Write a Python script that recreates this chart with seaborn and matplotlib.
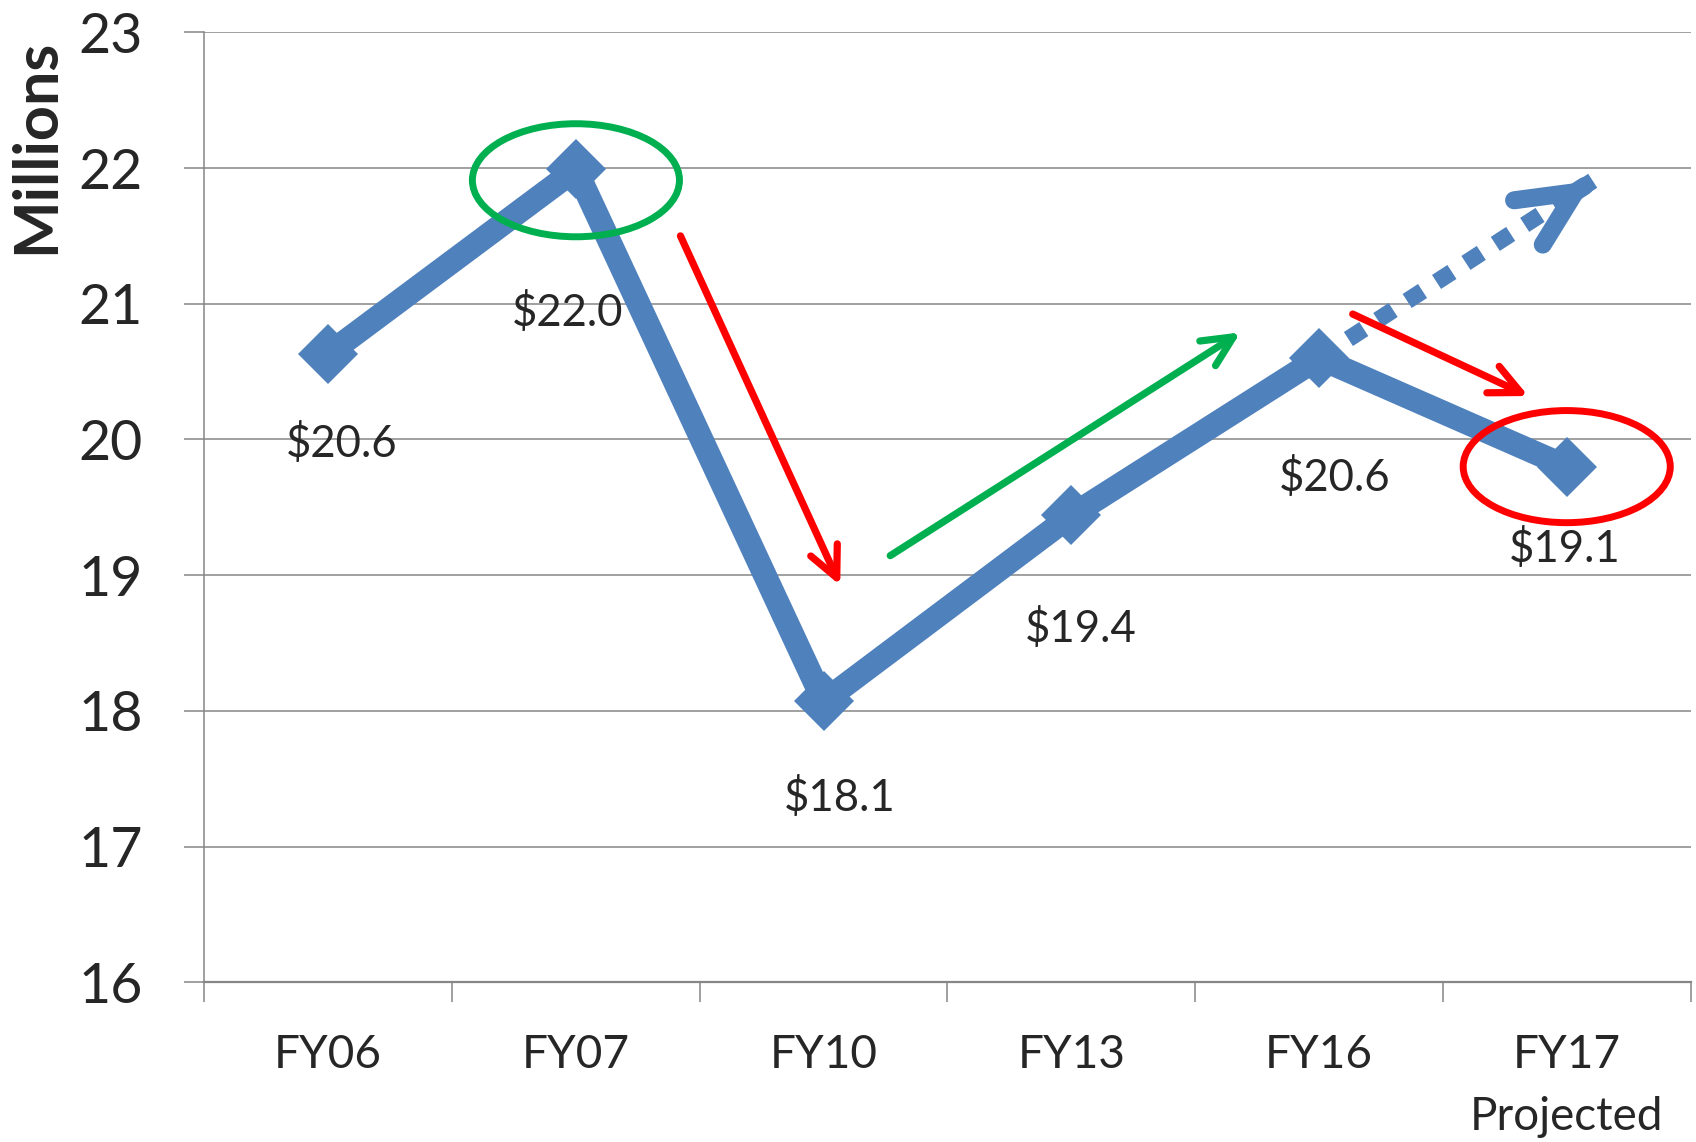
import matplotlib
matplotlib.use("Agg")
import matplotlib.pyplot as plt
from matplotlib.patches import Ellipse
import seaborn as sns
import pandas as pd

# --- data ---
years = ["FY06", "FY07", "FY10", "FY13", "FY16", "FY17"]
tick_labels = ["FY06", "FY07", "FY10", "FY13", "FY16", "FY17\nProjected"]
values = [20.63, 21.99, 18.07, 19.44, 20.60, 19.80]
value_labels = ["$20.6", "$22.0", "$18.1", "$19.4", "$20.6", "$19.1"]

# label offsets from each point (pixels)
label_offsets = [(13, -90), (-8, -144), (16, -97), (9, -114), (16, -120), (-2, -82)]

BLUE = "#4F81BD"
GREEN = "#00B050"
RED = "#FF0000"
GRAY = "#868686"

sns.set_style("white")
plt.rcParams["font.family"] = ["Lato", "DejaVu Sans"]

fig = plt.figure(figsize=(16.96, 11.42), dpi=100)
ax = fig.add_axes([0.1205, 0.1398, 0.8763, 0.8319])

df = pd.DataFrame({"year": years, "value": values})
sns.pointplot(data=df, x="year", y="value", color=BLUE, markers="D",
              markersize=31, markeredgewidth=0, linewidth=17,
              errorbar=None, ax=ax, zorder=3)

# projected trend: dotted line from FY16 with open arrow head
tip = (5.105, 21.906)
ax.plot([4, tip[0]], [values[4], tip[1]], color=BLUE, lw=12,
        linestyle=(0, (1.1, 1.0)), dash_capstyle="butt", zorder=2)
back = (tip[0] - 0.03 * (tip[0] - 4), tip[1] - 0.03 * (tip[1] - values[4]))
ax.annotate("", xy=tip, xytext=back,
            arrowprops=dict(arrowstyle="->,head_length=40,head_width=19",
                            mutation_scale=1, lw=13, color=BLUE,
                            shrinkA=0, shrinkB=0, capstyle="round"),
            zorder=2)

# red / green trend arrows
arrows = [((1.422, 21.50), (2.067, 18.925), RED),
          ((2.269, 19.144), (3.683, 20.789), GREEN),
          ((4.136, 20.924), (4.845, 20.32), RED)]
for start, end, col in arrows:
    ax.annotate("", xy=end, xytext=start,
                arrowprops=dict(arrowstyle="->,head_length=22,head_width=10.5",
                                mutation_scale=1, lw=5.2, color=col,
                                shrinkA=0, shrinkB=0, capstyle="round"),
                zorder=4)

# highlight ellipses
ax.add_patch(Ellipse((1, values[1] - 0.08), 0.836, 0.833, fill=False,
                     ec=GREEN, lw=5, zorder=5))
ax.add_patch(Ellipse((5, values[5]), 0.836, 0.826, fill=False,
                     ec=RED, lw=5, zorder=5))

# value labels
for i, (v, lab, off) in enumerate(zip(values, value_labels, label_offsets)):
    ax.annotate(lab, (i, v), xytext=off, textcoords="offset pixels",
                ha="center", va="center", fontsize=31.5, zorder=6)

# axes styling
ax.set_xlim(-0.5, 5.5)
ax.set_ylim(16, 23)
ax.set_yticks(range(16, 24))
ax.yaxis.grid(True, color=GRAY, lw=1.1)
ax.xaxis.grid(False)
ax.set_axisbelow(True)
ax.set_xlabel("")
ax.set_ylabel("")

for s in ["top", "right"]:
    ax.spines[s].set_visible(False)
ax.spines["left"].set_color(GRAY)
ax.spines["left"].set_linewidth(1.1)
ax.spines["bottom"].set_color(GRAY)
ax.spines["bottom"].set_linewidth(1.6)

ax.set_xticks(range(len(years)))
ax.set_xticklabels(tick_labels, linespacing=1.6)
ax.set_xticks([i - 0.5 for i in range(len(years) + 1)], minor=True)
ax.tick_params(axis="x", which="major", bottom=True, length=0, pad=37,
               labelsize=33)
ax.tick_params(axis="x", which="minor", bottom=True, length=14.5, width=1.1,
               color=GRAY, direction="out")
ax.tick_params(axis="y", left=True, length=14.5, width=1.1, color=GRAY,
               direction="out", pad=30, labelsize=40)

fig.text(36 / 1696, 1 - 146 / 1142, "Millions", rotation=90, fontsize=44,
         fontweight="bold", ha="center", va="center")

fig.savefig("out.png", dpi=100)
